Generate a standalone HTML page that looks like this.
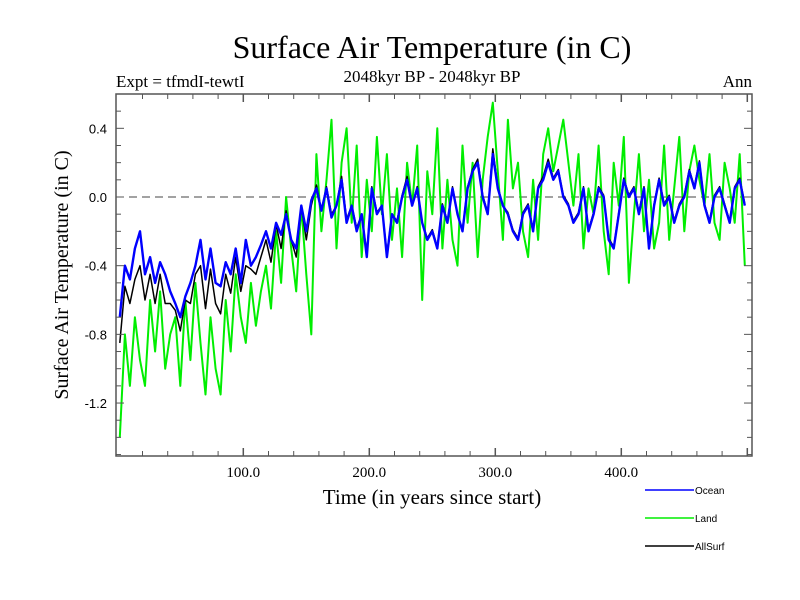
<!DOCTYPE html>
<html><head><meta charset="utf-8"><style>
body{margin:0;background:#fff;width:800px;height:600px;overflow:hidden}
svg{display:block}
</style></head><body>
<svg id="chart" width="800" height="600" xmlns="http://www.w3.org/2000/svg">
<text x="432" y="58" font-family="Liberation Serif, serif" font-size="32" text-anchor="middle">Surface Air Temperature (in C)</text>
<text x="116" y="87" font-family="Liberation Serif, serif" font-size="17">Expt = tfmdI-tewtI</text>
<text x="432" y="82" font-family="Liberation Serif, serif" font-size="17" text-anchor="middle">2048kyr BP - 2048kyr BP</text>
<text x="752" y="87" font-family="Liberation Serif, serif" font-size="17" text-anchor="end">Ann</text>
<text x="432" y="504" font-family="Liberation Serif, serif" font-size="21" text-anchor="middle">Time (in years since start)</text>
<text transform="translate(68,275) rotate(-90)" font-family="Liberation Serif, serif" font-size="20" text-anchor="middle">Surface Air Temperature (in C)</text>
<g id="plot"></g>
<g id="axes"></g>
<g id="legend"></g>
</svg>
<script>
const ocean=[-0.70,-0.40,-0.48,-0.30,-0.20,-0.45,-0.35,-0.50,-0.38,-0.45,-0.55,-0.62,-0.70,-0.58,-0.50,-0.40,-0.25,-0.48,-0.30,-0.50,-0.52,-0.38,-0.45,-0.30,-0.50,-0.25,-0.40,-0.35,-0.28,-0.20,-0.30,-0.15,-0.22,-0.10,-0.25,-0.30,-0.05,-0.20,-0.02,0.05,-0.08,0.05,-0.12,-0.05,0.10,-0.15,-0.05,-0.20,-0.10,-0.35,0.05,-0.10,-0.05,-0.35,-0.10,-0.15,0.00,0.10,-0.05,0.05,-0.15,-0.25,-0.20,-0.30,-0.05,-0.15,0.05,-0.10,-0.20,0.05,0.15,0.20,0.00,-0.10,0.25,0.05,-0.05,-0.10,-0.20,-0.25,-0.10,-0.05,-0.20,0.05,0.10,0.20,0.10,0.15,0.00,-0.05,-0.15,-0.10,0.05,-0.20,-0.10,0.05,0.00,-0.25,-0.30,-0.10,0.10,0.00,0.05,-0.10,0.05,-0.30,-0.05,0.10,-0.05,0.00,-0.15,-0.05,0.00,0.15,0.05,0.20,-0.05,-0.15,0.00,0.05,-0.05,-0.15,0.05,0.10,-0.05];
const land=[-1.40,-0.80,-1.10,-0.70,-0.95,-1.10,-0.60,-0.90,-0.55,-1.00,-0.80,-0.70,-1.10,-0.60,-0.95,-0.50,-0.85,-1.15,-0.70,-1.00,-1.15,-0.60,-0.90,-0.45,-0.70,-0.85,-0.50,-0.75,-0.55,-0.40,-0.65,-0.20,-0.50,0.00,-0.30,-0.55,-0.05,-0.45,-0.80,0.25,-0.20,0.10,0.45,-0.30,0.20,0.40,-0.15,0.30,-0.35,0.10,-0.20,0.35,-0.10,0.25,-0.25,0.05,-0.35,0.20,-0.05,0.30,-0.60,0.15,-0.10,0.40,-0.30,0.10,-0.25,-0.40,0.30,-0.15,0.20,-0.35,0.10,0.35,0.55,0.15,-0.25,0.45,0.05,0.20,-0.20,-0.35,0.10,-0.25,0.25,0.40,0.15,0.30,0.45,0.20,-0.05,0.25,-0.30,0.05,-0.10,0.30,-0.20,-0.45,0.20,-0.05,0.35,-0.50,-0.10,0.25,-0.20,0.10,-0.30,-0.15,0.30,-0.25,0.05,0.35,-0.20,0.15,0.30,0.10,-0.05,0.25,-0.15,-0.25,0.20,0.05,-0.15,0.25,-0.40];
const allsurf=[-0.85,-0.52,-0.62,-0.48,-0.40,-0.60,-0.45,-0.62,-0.45,-0.62,-0.62,-0.66,-0.78,-0.60,-0.62,-0.45,-0.40,-0.65,-0.42,-0.62,-0.68,-0.45,-0.56,-0.35,-0.55,-0.40,-0.42,-0.45,-0.35,-0.25,-0.38,-0.16,-0.30,-0.08,-0.25,-0.35,-0.05,-0.25,-0.05,0.07,-0.08,0.06,-0.10,-0.05,0.12,-0.13,-0.05,-0.18,-0.10,-0.33,0.06,-0.09,-0.05,-0.33,-0.10,-0.14,0.01,0.12,-0.05,0.06,-0.15,-0.24,-0.19,-0.29,-0.04,-0.14,0.06,-0.10,-0.19,0.06,0.16,0.22,0.01,-0.09,0.28,0.06,-0.05,-0.09,-0.19,-0.24,-0.09,-0.04,-0.19,0.06,0.12,0.22,0.11,0.16,0.01,-0.04,-0.14,-0.09,0.06,-0.19,-0.09,0.06,0.01,-0.24,-0.29,-0.09,0.11,0.01,0.06,-0.09,0.06,-0.29,-0.04,0.11,-0.04,0.01,-0.14,-0.04,0.01,0.16,0.06,0.21,-0.04,-0.14,0.01,0.06,-0.04,-0.14,0.06,0.11,-0.04];
const xMajorTicks=[100,200,300,400,500];
const xTickLabels=["100.0","200.0","300.0","400.0",""];
const yMajorTicks=[0.4,0.0,-0.4,-0.8,-1.2];
const yTickLabels=["0.4","0.0","-0.4","-0.8","-1.2"];
const seriesNames=["Ocean","Land","AllSurf"];
const seriesColors=["#0000ff","#00ee00","#000000"];

const NS="http://www.w3.org/2000/svg";
const L=116,R=752,T=94,B=456;
const X=t=>117.3+1.26*t;
const Y=v=>197-v*171.7;
function mk(tag,attrs,parent){const e=document.createElementNS(NS,tag);for(const k in attrs)e.setAttribute(k,attrs[k]);parent.appendChild(e);return e;}
const plot=document.getElementById('plot'),axes=document.getElementById('axes'),leg=document.getElementById('legend');

const clip=mk('clipPath',{id:'pc'},plot);mk('rect',{x:L,y:T,width:R-L,height:B-T},clip);
const zl=mk('line',{x1:L,x2:R,y1:Y(0),y2:Y(0),stroke:'#444','stroke-dasharray':'8,5','stroke-width':1},plot);


const data=[land,allsurf,ocean];const cols=["#00ee00","#000000","#0000ff"];const nm=["land-series","allsurf-series","ocean-series"];const sw=[2,1.5,2.4];
data.forEach((arr,si)=>{
  const step=496/(arr.length-1);
  const d=arr.map((v,i)=>(i?'L':'M')+X(2+i*step).toFixed(1)+','+Y(v).toFixed(1)).join('');
  const p=mk('path',{d:d,fill:'none',stroke:cols[si],'stroke-width':sw[si],'clip-path':'url(#pc)','stroke-linejoin':'round'},plot);
  
  
});
const fr=mk('rect',{x:L,y:T,width:R-L,height:B-T,fill:'none',stroke:'#555','stroke-width':1.5},axes);


for(let t=20;t<=500;t+=20){
  const maj=t%100===0,len=maj?8:5,x=X(t);
  if(x>R)continue;
  mk('line',{x1:x,x2:x,y1:B,y2:B-len,stroke:'#555','stroke-width':maj?1.5:1},axes);
  mk('line',{x1:x,x2:x,y1:T,y2:T+len,stroke:'#555','stroke-width':maj?1.5:1},axes);
}
xMajorTicks.forEach((t,i)=>{
  if(!xTickLabels[i])return;
  const tx=mk('text',{x:X(t),y:477,'font-family':'Liberation Serif, serif','font-size':15,'text-anchor':'middle'},axes);
  tx.textContent=xTickLabels[i];
  
  
});
for(let k=-15;k<=6;k++){
  const v=k/10,y=Y(v);if(y<T+1||y>B-1)continue;
  const maj=(k%4===0),len=maj?8:5;
  mk('line',{x1:L,x2:L+len,y1:y,y2:y,stroke:'#555','stroke-width':1},axes);
  mk('line',{x1:R,x2:R-len,y1:y,y2:y,stroke:'#555','stroke-width':1},axes);
}
yMajorTicks.forEach((v,i)=>{
  const tx=mk('text',{x:107,y:Y(v)+5,'font-family':'Liberation Sans, sans-serif','font-size':13,'text-anchor':'end'},axes);
  tx.textContent=yTickLabels[i];
  
  
});
seriesNames.forEach((n,i)=>{
  const y=490+i*28;
  const g=mk('g',{},leg);
  
  
  mk('line',{x1:645,x2:694,y1:y,y2:y,stroke:seriesColors[i],'stroke-width':1.5},g);
  const tx=mk('text',{x:695,y:y+4,'font-family':'Liberation Sans, sans-serif','font-size':10},g);
  tx.textContent=n;
});
</script>
</body></html>
